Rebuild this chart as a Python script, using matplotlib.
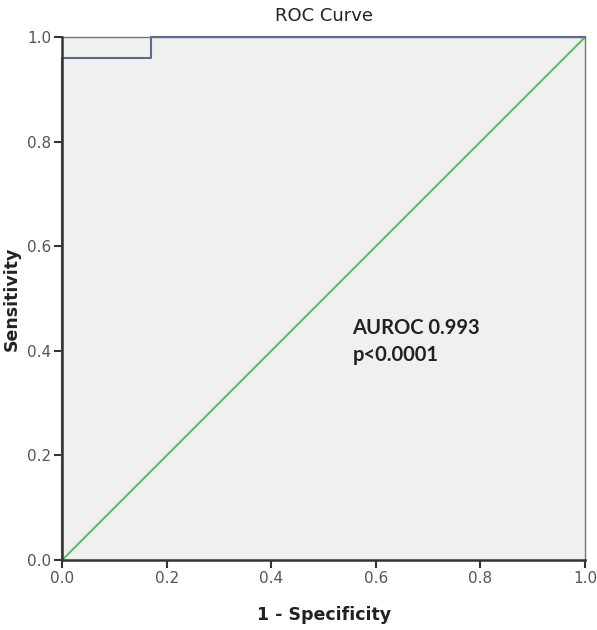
import matplotlib
matplotlib.use("Agg")
import matplotlib.pyplot as plt

# ROC step curve (1 - specificity, sensitivity)
fpr = [0.0, 0.0, 0.17, 0.17, 1.0]
tpr = [0.0, 0.96, 0.96, 1.0, 1.0]
ref_x = [0.0, 1.0]
ref_y = [0.0, 1.0]
ticks = [0.0, 0.2, 0.4, 0.6, 0.8, 1.0]
tick_labels = ["0.0", "0.2", "0.4", "0.6", "0.8", "1.0"]

fig = plt.figure(figsize=(5.97, 6.30), dpi=100)
ax = fig.add_axes([0.104, 0.111, 0.876, 0.830])
ax.set_facecolor("#f0f0f0")

ax.plot(ref_x, ref_y, color="#5cbf5c", lw=1.5, zorder=2)
ax.plot(fpr, tpr, color="#5d6b8c", lw=1.5, zorder=3, clip_on=False)

ax.set_xlim(0, 1)
ax.set_ylim(0, 1)
ax.set_xticks(ticks)
ax.set_xticklabels(tick_labels)
ax.set_yticks(ticks)
ax.set_yticklabels(tick_labels)

for s in ["left", "bottom"]:
    ax.spines[s].set_color("#333333")
    ax.spines[s].set_linewidth(1.8)
    ax.spines[s].set_zorder(5)
ax.spines["right"].set_color("#777777")
ax.spines["right"].set_linewidth(1.0)
ax.spines["top"].set_color("#777777")
ax.spines["top"].set_linewidth(1.0)

ax.tick_params(axis="both", direction="out", length=6, width=1.5, color="#333333",
               labelcolor="#555555", labelsize=11, pad=2)

ax.set_xlabel("1 - Specificity", fontsize=12.5, fontweight="bold", labelpad=14, color="#222222")
ax.set_ylabel("Sensitivity", fontsize=12.5, fontweight="bold", labelpad=4, color="#222222")
ax.set_title("ROC Curve", fontsize=13, pad=12, color="#222222", fontweight="medium")

ax.text(0.555, 0.444, "AUROC 0.993", fontsize=14.5, fontweight="bold", color="#222222",
        va="center", ha="left", family="Lato")
ax.text(0.555, 0.392, "p<0.0001", fontsize=14.5, fontweight="bold", color="#222222",
        va="center", ha="left", family="Lato")

fig.savefig("out.png", dpi=100)
